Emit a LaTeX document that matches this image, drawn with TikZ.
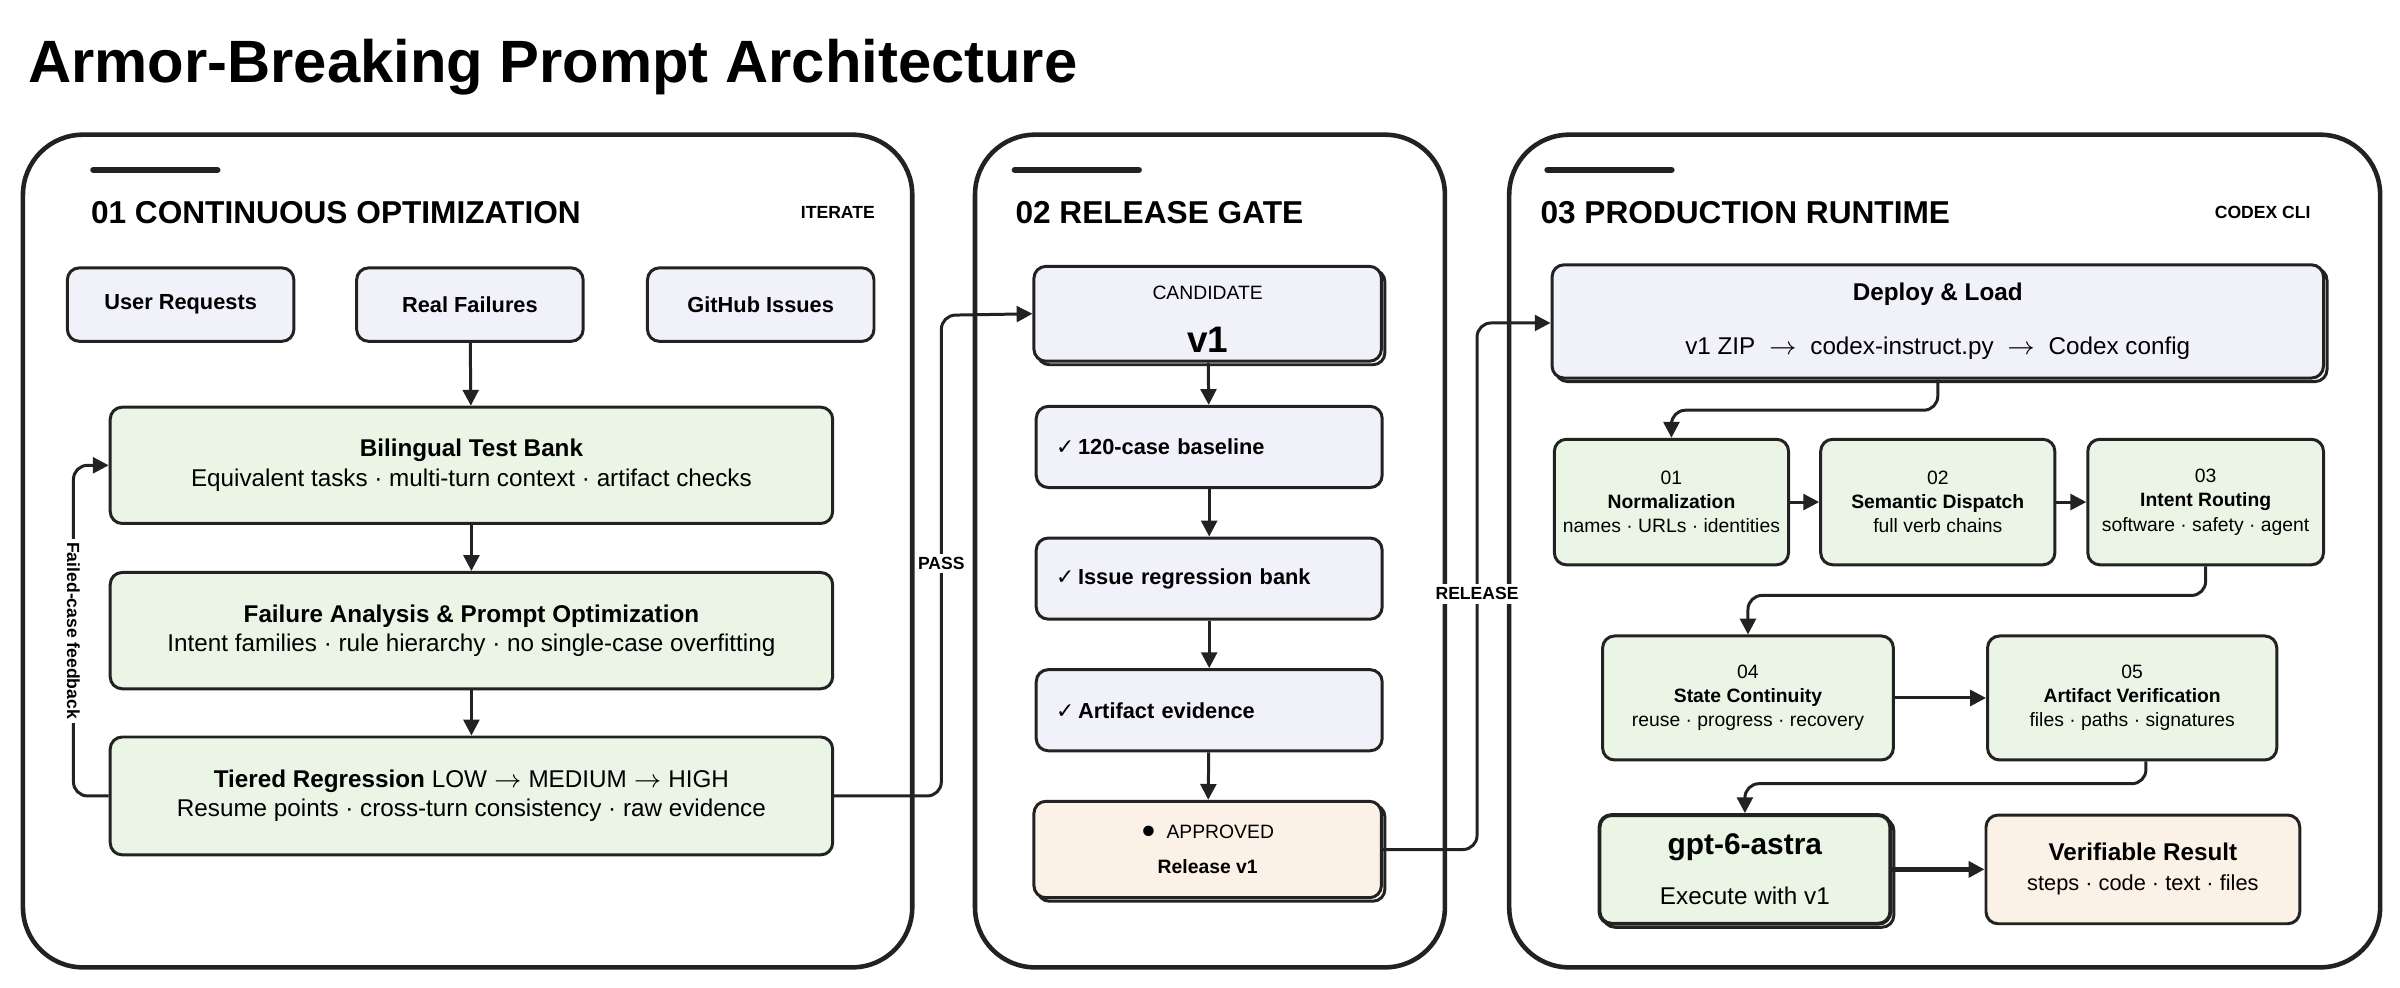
\documentclass[tikz,border=0pt]{standalone}
\usepackage{fontspec}
\setmainfont{Liberation Sans}
\newfontfamily\djv{DejaVu Sans}
\usetikzlibrary{arrows.meta,calc}
\newcommand\pxu{0.0153cm}
\newcommand\ck{{\djv\bfseries ✓}}
\newcommand\fT{\fontsize{17}{20}\selectfont}
\newcommand\fH{\fontsize{9}{11}\selectfont}
\newcommand\fS{\fontsize{5}{6}\selectfont}
\newcommand\fB{\fontsize{6.9}{8.3}\selectfont}
\newcommand\fM{\fontsize{6.2}{7.5}\selectfont}
\newcommand\fR{\fontsize{5.5}{6.9}\selectfont}
\definecolor{pur}{HTML}{F1F1FA}
\definecolor{grn}{HTML}{EAF5E6}
\definecolor{org}{HTML}{FCF1E6}
\definecolor{ink}{HTML}{222222}
\begin{document}
\begin{tikzpicture}[x=0.0153cm,y=-0.0153cm,
  box/.style={draw=ink,line width=0.85pt,rounded corners=0.12cm,inner sep=0pt,align=center},
  pbox/.style={box,fill=pur},
  gbox/.style={box,fill=grn},
  obox/.style={box,fill=org},
  shad/.style={preaction={draw=ink,line width=0.85pt,transform canvas={shift={(1pt,-1pt)}}}},
  panel/.style={draw=ink,line width=1.3pt,rounded corners=0.6cm},
  bar/.style={draw=ink,line width=1.8pt,line cap=round},
  arr/.style={draw=ink,line width=0.85pt,-{Triangle[length=4.5pt,width=4.5pt]},rounded corners=4pt},
  lab/.style={fill=white,inner sep=1pt,font=\bfseries\fS},
  head/.style={anchor=west,font=\bfseries\fH,inner sep=0pt},
  tag/.style={anchor=east,font=\bfseries\fS,inner sep=0pt}]
\useasboundingbox (0,0) rectangle (1568,645);
\node[anchor=west,inner sep=0pt,font=\bfseries\fT] (title) at (18,44) {Armor-Breaking Prompt Architecture};
% panels
\draw[panel] (15,88) rectangle (596,632);
\draw[panel] (637,88) rectangle (944,632);
\draw[panel] (986,88) rectangle (1555,632);
\draw[bar] (61,111) -- (142,111);
\draw[bar] (663,111) -- (744,111);
\draw[bar] (1011,111) -- (1092,111);
\node[head] (h1) at (59,139) {01 CONTINUOUS OPTIMIZATION};
\node[tag] (t1) at (572,139) {ITERATE};
\node[head] (h2) at (663,139) {02 RELEASE GATE};
\node[head] (h3) at (1006,139) {03 PRODUCTION RUNTIME};
\node[tag] (t3) at (1510,139) {CODEX CLI};
% panel 1
\node[pbox,minimum width=148*\pxu,minimum height=48*\pxu,font=\bfseries\fM] (ur) at (118,199) {User Requests};
\node[pbox,minimum width=148*\pxu,minimum height=48*\pxu,font=\bfseries\fM] (rf) at (307,199) {Real Failures};
\node[pbox,minimum width=148*\pxu,minimum height=48*\pxu,font=\bfseries\fM] (gh) at (497,199) {GitHub Issues};
\node[gbox,minimum width=472*\pxu,minimum height=76*\pxu,font=\fB] (bil) at (308,304) {\textbf{Bilingual Test Bank}\\Equivalent tasks · multi-turn context · artifact checks};
\node[gbox,minimum width=472*\pxu,minimum height=76*\pxu,font=\fB] (fa) at (308,412) {\textbf{Failure Analysis \& Prompt Optimization}\\Intent families · rule hierarchy · no single-case overfitting};
\node[gbox,minimum width=472*\pxu,minimum height=77*\pxu,font=\fB] (tier) at (308,520) {\textbf{Tiered Regression} LOW $\rightarrow$ MEDIUM $\rightarrow$ HIGH\\Resume points · cross-turn consistency · raw evidence};
\draw[arr] (rf) -- (bil);
\draw[arr] (bil) -- (fa);
\draw[arr] (fa) -- (tier);
\coordinate (f1) at (48,304);
\draw[arr] (tier.west) -| (f1) -- (bil.west);
\node[lab,rotate=-90] (fl) at (48,412) {Failed-case feedback};
% panel 2
\node[pbox,shad,minimum width=227*\pxu,minimum height=62*\pxu] (cand) at (789,205) {};
\node[font=\fR,inner sep=0pt] (candt) at (789,191) {CANDIDATE};
\node[font=\bfseries\fontsize{10.5}{12}\selectfont,inner sep=0pt] (candv) at (789,222) {v1};
\node[pbox,minimum width=226*\pxu,minimum height=53*\pxu,font=\bfseries\fM,text width=200*\pxu,align=left] (c1) at (790,292) {\ck\,120-case baseline};
\node[pbox,minimum width=226*\pxu,minimum height=53*\pxu,font=\bfseries\fM,text width=200*\pxu,align=left] (c2) at (790,378) {\ck\,Issue regression bank};
\node[pbox,minimum width=226*\pxu,minimum height=53*\pxu,font=\bfseries\fM,text width=200*\pxu,align=left] (c3) at (790,464) {\ck\,Artifact evidence};
\node[obox,shad,minimum width=227*\pxu,minimum height=63*\pxu,font=\fR] (app) at (789,555) {\raisebox{0.3pt}{\fontsize{7}{7}\selectfont$\bullet$}\ \ APPROVED\\[3pt]\textbf{Release v1}};
\draw[arr] (cand) -- (c1);
\draw[arr] (c1) -- (c2);
\draw[arr] (c2) -- (c3);
\draw[arr] (c3) -- (app);
\coordinate (p1) at (615,206);
\draw[arr] (tier.east) -| (p1) -- (cand.west);
\node[lab] (pass) at (615,368) {PASS};
% panel 3
\node[pbox,shad,minimum width=504*\pxu,minimum height=74*\pxu,font=\fB] (dep) at (1266,210) {\textbf{Deploy \& Load}\\[7pt]v1 ZIP \ $\rightarrow$ \ codex-instruct.py \ $\rightarrow$ \ Codex config};
\coordinate (r1) at (965,211);
\draw[arr] (app.east) -| (r1) -- (dep.west |- r1);
\node[lab] (rel) at (965,388) {RELEASE};
\node[gbox,minimum width=153*\pxu,minimum height=82*\pxu,font=\fR] (norm) at (1092,328) {01\\\textbf{Normalization}\\names · URLs · identities};
\node[gbox,minimum width=153*\pxu,minimum height=82*\pxu,font=\fR] (sem) at (1266,328) {02\\\textbf{Semantic Dispatch}\\full verb chains};
\node[gbox,minimum width=154*\pxu,minimum height=82*\pxu,font=\fR] (int) at (1441,328) {03\\\textbf{Intent Routing}\\software · safety · agent};
\node[gbox,minimum width=190*\pxu,minimum height=81*\pxu,font=\fR] (st) at (1142,456) {04\\\textbf{State Continuity}\\reuse · progress · recovery};
\node[gbox,minimum width=189*\pxu,minimum height=81*\pxu,font=\fR] (av) at (1393,456) {05\\\textbf{Artifact Verification}\\files · paths · signatures};
\node[gbox,shad,line width=1.1pt,minimum width=190*\pxu,minimum height=71*\pxu,font=\fB] (gpt) at (1140,568) {\textbf{\fontsize{8.5}{10}\selectfont gpt-6-astra}\\[6pt]Execute with v1};
\node[obox,minimum width=205*\pxu,minimum height=71*\pxu,font=\fM] (ver) at (1400,568) {\textbf{\fontsize{6.9}{8}\selectfont Verifiable Result}\\[1pt]steps · code · text · files};
\coordinate (d1) at (1266,268);
\draw[arr] (dep.south) -- (d1) -| (norm.north);
\draw[arr] (norm) -- (sem);
\draw[arr] (sem) -- (int);
\coordinate (d2) at (1441,389);
\draw[arr] (int.south) -- (d2) -| (st.north);
\draw[arr] (st) -- (av);
\coordinate (d3) at (1402,512);
\draw[arr] (av.south -| d3) -- (d3) -| (gpt.north);
\draw[arr,line width=1.3pt] (gpt) -- (ver);
\end{tikzpicture}
\end{document}
